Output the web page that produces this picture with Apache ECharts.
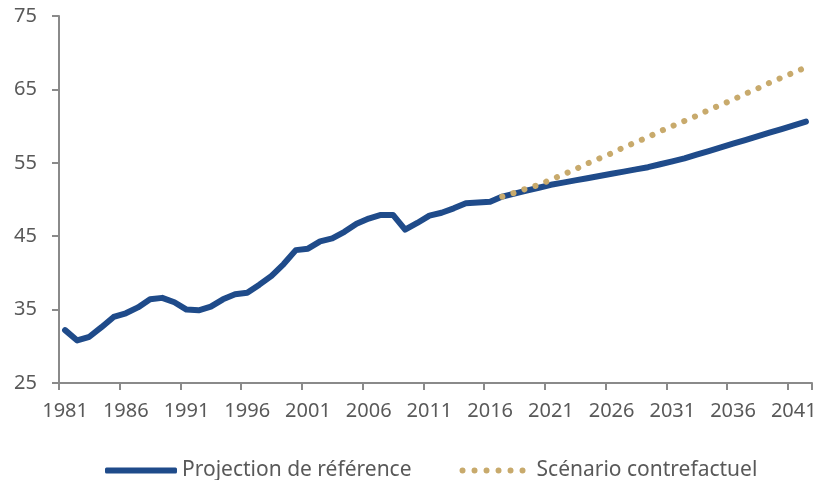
<!DOCTYPE html>
<html>
<head>
<meta charset="utf-8">
<script src="https://cdn.jsdelivr.net/npm/echarts@6/dist/echarts.min.js"></script>
<style>
  html, body { margin: 0; padding: 0; background: #fff; }
  #chart { width: 822px; height: 480px; }
</style>
</head>
<body>
<div id="chart"></div>
<script>
// années 1981 - 2042
var years = [];
for (var y = 1981; y <= 2042; y++) years.push(String(y));

// Projection de référence (historique + projection)
var reference = [
  32.2, 30.8, 31.3, 32.6, 34.0, 34.5, 35.3, 36.4, 36.6, 36.0,
  35.0, 34.9, 35.4, 36.4, 37.1, 37.3, 38.4, 39.6, 41.2, 43.1,
  43.3, 44.3, 44.7, 45.6, 46.7, 47.4, 47.9, 47.9, 45.9, 46.8,
  47.8, 48.2, 48.8, 49.5, 49.6, 49.7, 50.4, 50.8, 51.2, 51.6,
  52.0, 52.3, 52.6, 52.9, 53.2, 53.5, 53.8, 54.1, 54.4, 54.8,
  55.2, 55.6, 56.1, 56.6, 57.1, 57.6, 58.1, 58.6, 59.1, 59.6,
  60.1, 60.6
];

// Scénario contrefactuel (à partir de 2017)
var contrefactuel = [
  null, null, null, null, null, null, null, null, null, null,
  null, null, null, null, null, null, null, null, null, null,
  null, null, null, null, null, null, null, null, null, null,
  null, null, null, null, null, null, 50.4, 50.9, 51.5, 52.0,
  52.7, 53.4, 54.1, 54.9, 55.6, 56.3, 57.1, 57.8, 58.5, 59.3,
  60.0, 60.7, 61.4, 62.2, 62.9, 63.6, 64.4, 65.1, 65.9, 66.6,
  67.3, 68.0
];

var yTicks = [25, 35, 45, 55, 65, 75];

var font = '"Noto Sans", "Open Sans", sans-serif';
var axisGrey = '#8a8a8a';
var textGrey = '#595959';
var blue = '#1f4b8a';
var gold = '#c8aa6c';

// icône de légende : 6 points ronds
var dotsIcon = 'path://M0,3a3,3 0 1,0 6,0a3,3 0 1,0 -6,0Z' +
  'M12,3a3,3 0 1,0 6,0a3,3 0 1,0 -6,0Z' +
  'M24,3a3,3 0 1,0 6,0a3,3 0 1,0 -6,0Z' +
  'M36,3a3,3 0 1,0 6,0a3,3 0 1,0 -6,0Z' +
  'M48,3a3,3 0 1,0 6,0a3,3 0 1,0 -6,0Z' +
  'M60,3a3,3 0 1,0 6,0a3,3 0 1,0 -6,0Z' +
  'M72,3Z';

var chart = echarts.init(document.getElementById('chart'));

var option = {
  animation: false,
  grid: {
    left: 59, right: 10, top: 16, bottom: 97,
    containLabel: false,
    outerBoundsMode: 'none'
  },
  legend: {
    left: 100,
    top: 455,
    itemWidth: 72,
    itemHeight: 6,
    itemGap: 48,
    textStyle: { fontFamily: font, fontSize: 21, color: textGrey },
    data: [
      { name: 'Projection de référence', icon: 'roundRect' },
      { name: 'Scénario contrefactuel', icon: dotsIcon }
    ]
  },
  xAxis: {
    type: 'category',
    data: years,
    boundaryGap: true,
    axisLine: { lineStyle: { color: axisGrey, width: 2 } },
    axisTick: { show: true, interval: 4, length: 7, lineStyle: { color: axisGrey, width: 2 } },
    axisLabel: {
      interval: 4, margin: 18,
      fontFamily: font, fontSize: 20, color: textGrey
    },
    splitLine: { show: false }
  },
  yAxis: {
    type: 'value',
    min: 25,
    max: 75,
    axisLine: { show: true, lineStyle: { color: axisGrey, width: 2 } },
    axisTick: { show: true, length: 7, customValues: yTicks, lineStyle: { color: axisGrey, width: 2 } },
    axisLabel: {
      customValues: yTicks, margin: 22,
      fontFamily: font, fontSize: 20, color: textGrey
    },
    splitLine: { show: false }
  },
  series: [
    {
      name: 'Projection de référence',
      type: 'line',
      data: reference,
      symbol: 'none',
      lineStyle: { color: blue, width: 6, cap: 'round', join: 'round' },
      itemStyle: { color: blue }
    },
    {
      name: 'Scénario contrefactuel',
      type: 'line',
      data: contrefactuel,
      symbol: 'none',
      lineStyle: { color: gold, width: 6, type: [0.1, 11.5], cap: 'round' },
      itemStyle: { color: gold }
    }
  ]
};

chart.setOption(option);
</script>
</body>
</html>
